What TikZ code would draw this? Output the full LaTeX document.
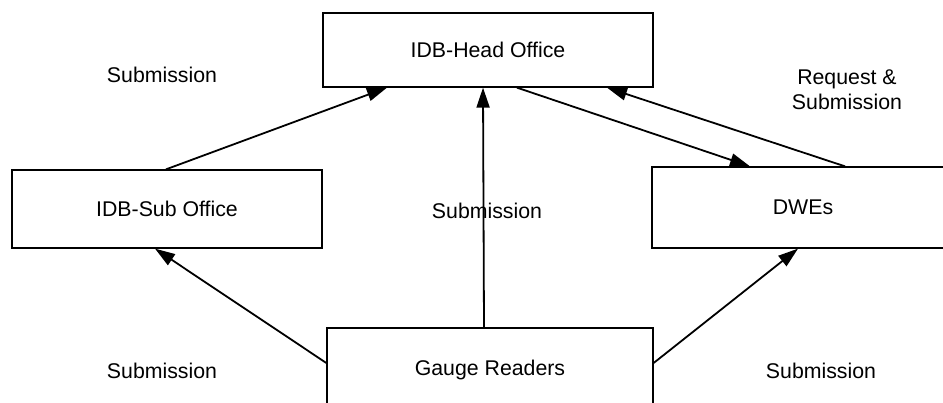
\documentclass[tikz,border=0pt]{standalone}
\usepackage{fontspec}
\setmainfont{Liberation Sans}
\usetikzlibrary{arrows.meta}
\begin{document}
\begin{tikzpicture}[x=1pt,y=-1pt,
  box/.style={draw, line width=1.3pt, inner sep=0pt, font=\fontsize{21.3}{25}\selectfont},
  lbl/.style={font=\fontsize{21.3}{25}\selectfont, align=center},
  arr/.style={line width=1.8pt, -{Triangle[length=20pt,width=13pt]}}]
\useasboundingbox (0,0) rectangle (943,403);
\clip (0,0) rectangle (943,403);
\node[box, minimum width=330pt, minimum height=74pt] (head) at (488,50) {IDB-Head Office};
\node[box, minimum width=310pt, minimum height=78pt] (sub) at (167,209) {IDB-Sub Office};
\node[box, minimum width=340pt, minimum height=81pt] (dwes) at (822,207.5) {\hspace*{-38pt}DWEs};
\node[box, minimum width=326pt, minimum height=84pt] (gauge) at (490,370) {Gauge Readers};
\draw[arr] ([xshift=-1pt]sub.north) -- ([xshift=-101pt]head.south);
\draw[arr] ([xshift=-6pt]gauge.north) -- ([xshift=-5pt]head.south);
\draw[arr] ([xshift=29pt]head.south) -- ([xshift=-72pt]dwes.north);
\draw[arr] ([xshift=23pt]dwes.north) -- ([xshift=119pt]head.south);
\draw[arr] ([yshift=7pt]gauge.west) -- ([xshift=-12pt]sub.south);
\draw[arr] ([yshift=7pt]gauge.east) -- ([xshift=-24pt]dwes.south);
\node[lbl] (l1) at (162,75) {Submission};
\node[lbl] (l2) at (487,211) {Submission};
\node[lbl] (l3) at (847,90) {Request \&\\Submission};
\node[lbl] (l4) at (162,371) {Submission};
\node[lbl] (l5) at (821,371) {Submission};
\end{tikzpicture}
\end{document}
